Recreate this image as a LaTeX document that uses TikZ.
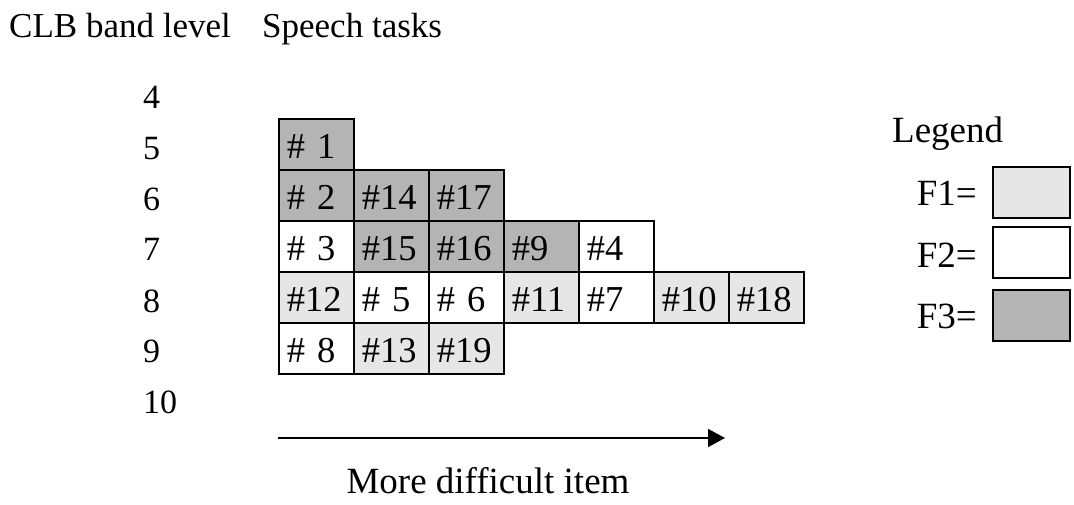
\documentclass[tikz,border=0pt]{standalone}
\usepackage{fontspec}
\setmainfont{Liberation Serif}
\usetikzlibrary{arrows.meta}
\definecolor{fone}{HTML}{E6E6E6}
\definecolor{ftwo}{HTML}{FFFFFF}
\definecolor{fthree}{HTML}{B4B4B4}
\begin{document}
\begin{tikzpicture}[x=1pt,y=-1pt,
  txt/.style={font=\fontsize{34}{40}\selectfont, inner sep=0pt},
  bigtxt/.style={font=\fontsize{37}{42}\selectfont, inner sep=0pt},
  cell/.style={draw, line width=1.6pt, anchor=north west, minimum width=75pt, minimum height=51pt,
    inner xsep=8pt, inner ysep=0pt, text width=59pt, align=left, text height=28pt, text depth=0pt,
    font=\fontsize{36.5}{40}\selectfont},
  legbox/.style={draw, line width=1.6pt, anchor=north west, minimum width=77pt, minimum height=51pt, inner sep=0pt},
  arr/.style={line width=1.6pt, -{Triangle[length=17pt,width=18pt]}}]
\useasboundingbox (0,0) rectangle (1074,504);
% headers
\node[txt, font=\fontsize{35}{40}\selectfont, anchor=base west] (h1) at (9,37) {CLB band level};
\node[txt, font=\fontsize{35}{40}\selectfont, anchor=base west] (h2) at (262,37) {Speech tasks};
% band levels
\node[txt, anchor=base west] (b4) at (143,108) {4};
\node[txt, anchor=base west] (b5) at (143,159) {5};
\node[txt, anchor=base west] (b6) at (143,210) {6};
\node[txt, anchor=base west] (b7) at (143,260) {7};
\node[txt, anchor=base west] (b8) at (143,312) {8};
\node[txt, anchor=base west] (b9) at (143,362) {9};
\node[txt, anchor=base west] (b10) at (143,413) {10};
% row 5
\node[cell, fill=fthree] (t1) at (278,118) {\# 1};
% row 6
\node[cell, fill=fthree] (t2) at (278,169) {\# 2};
\node[cell, fill=fthree] (t14) at (353,169) {\#14};
\node[cell, fill=fthree] (t17) at (428,169) {\#17};
% row 7
\node[cell, fill=ftwo] (t3) at (278,220) {\# 3};
\node[cell, fill=fthree] (t15) at (353,220) {\#15};
\node[cell, fill=fthree] (t16) at (428,220) {\#16};
\node[cell, fill=fthree] (t9) at (503,220) {\#9};
\node[cell, fill=ftwo] (t4) at (578,220) {\#4};
% row 8
\node[cell, fill=fone] (t12) at (278,271) {\#12};
\node[cell, fill=ftwo] (t5) at (353,271) {\# 5};
\node[cell, fill=ftwo] (t6) at (428,271) {\# 6};
\node[cell, fill=fone] (t11) at (503,271) {\#11};
\node[cell, fill=ftwo] (t7) at (578,271) {\#7};
\node[cell, fill=fone] (t10) at (653,271) {\#10};
\node[cell, fill=fone] (t18) at (728,271) {\#18};
% row 9
\node[cell, fill=ftwo] (t8) at (278,322) {\# 8};
\node[cell, fill=fone] (t13) at (353,322) {\#13};
\node[cell, fill=fone] (t19) at (428,322) {\#19};
% legend
\node[bigtxt, anchor=base west] (leg) at (892,142) {Legend};
\node[bigtxt, anchor=base east] (l1) at (977,205) {F1=};
\node[bigtxt, anchor=base east] (l2) at (977,267) {F2=};
\node[bigtxt, anchor=base east] (l3) at (977,328) {F3=};
\node[legbox, fill=fone] (k1) at (992,166) {};
\node[legbox, fill=ftwo] (k2) at (992,226) {};
\node[legbox, fill=fthree] (k3) at (992,289) {};
% arrow
\coordinate (a0) at (278,438);
\coordinate (a1) at (725,438);
\draw[arr] (a0) -- (a1);
\node[bigtxt, anchor=base] (cap) at (488,493) {More difficult item};
\end{tikzpicture}
\end{document}
